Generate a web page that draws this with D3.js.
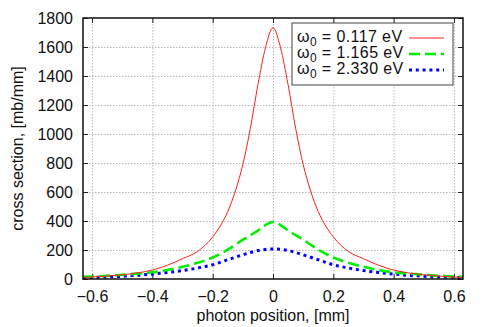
<!DOCTYPE html>
<html lang="en">
<head>
<meta charset="UTF-8">
<title>cross section vs photon position</title>
<script src="https://cdn.jsdelivr.net/npm/d3@7"></script>
<style>
    body {
        background: white;
        margin: 0;
        padding: 0;
    }
    svg text {
        font-family: "Liberation Sans", Arial, sans-serif;
        fill: #111;
    }
    .grid line {
        stroke: #b8b8b8;
        stroke-width: 1;
        stroke-dasharray: 1.5, 1.5;
    }
</style>
</head>
<body>
<script>
    // photon position, mm
    var positions = [-0.63, -0.6, -0.55, -0.5, -0.45, -0.4, -0.35, -0.3, -0.25, -0.2, -0.175, -0.15, -0.125, -0.1, -0.075, -0.05, -0.025,
        0, 0.025, 0.05, 0.075, 0.1, 0.125, 0.15, 0.175, 0.2, 0.25, 0.3, 0.35, 0.4, 0.45, 0.5, 0.55, 0.6, 0.63];

    // cross section, mb/mm
    var red117 = [11, 14, 20, 29, 42, 62, 95, 140, 190, 290, 365, 465, 605, 790, 1040, 1340, 1595,
        1733, 1595, 1340, 1040, 790, 605, 465, 365, 290, 190, 140, 95, 62, 42, 29, 20, 14, 11];
    var green1165 = [15, 17, 22, 29, 37, 46, 62, 84, 112, 148, 174, 202, 236, 271, 302, 334, 372,
        393, 372, 334, 302, 271, 236, 202, 174, 148, 112, 84, 62, 46, 37, 29, 22, 17, 15];
    var blue2330 = [10, 11, 14, 19, 25, 34, 45, 58, 76, 98, 115, 133, 150, 167, 183, 196, 204,
        207, 204, 196, 183, 167, 150, 133, 115, 98, 76, 58, 45, 34, 25, 19, 14, 11, 10];

    var seriesNames = ['0.117 eV', '1.165 eV', '2.330 eV'];
    var xTicks = [-0.6, -0.4, -0.2, 0, 0.2, 0.4, 0.6];
    var yTicks = [0, 200, 400, 600, 800, 1000, 1200, 1400, 1600, 1800];

    var W = 491, H = 327;
    var margin = {top: 18, right: 28, bottom: 48, left: 83};
    var w = W - margin.left - margin.right;
    var h = H - margin.top - margin.bottom;

    var svg = d3.select('body').append('svg')
        .attr('width', W)
        .attr('height', H);

    var g = svg.append('g')
        .attr('transform', 'translate(' + margin.left + ',' + margin.top + ')');

    var x = d3.scaleLinear().domain([-0.63, 0.63]).range([0, w]);
    var y = d3.scaleLinear().domain([0, 1800]).range([h, 0]);

    // grid
    var grid = g.append('g').attr('class', 'grid');
    grid.selectAll('.gx').data(xTicks).enter().append('line')
        .attr('x1', function(d) { return x(d) + 0.5 })
        .attr('x2', function(d) { return x(d) + 0.5 })
        .attr('y1', 0).attr('y2', h);
    grid.selectAll('.gy').data(yTicks.slice(1, -1)).enter().append('line')
        .attr('y1', function(d) { return y(d) + 0.5 })
        .attr('y2', function(d) { return y(d) + 0.5 })
        .attr('x1', 0).attr('x2', w);

    // axes, ticks pointing inward on all four sides
    var fmt = function(d) { return d === 0 ? '0' : d3.format('.1f')(d) };
    var axB = g.append('g').attr('transform', 'translate(0,' + h + ')')
        .call(d3.axisBottom(x).tickValues(xTicks).tickFormat(fmt).tickSizeInner(-5).tickSizeOuter(0).tickPadding(12));
    var axT = g.append('g')
        .call(d3.axisTop(x).tickValues(xTicks).tickFormat('').tickSizeInner(-5).tickSizeOuter(0));
    var axL = g.append('g')
        .call(d3.axisLeft(y).tickValues(yTicks).tickFormat(d3.format('d')).tickSizeInner(-5).tickSizeOuter(0).tickPadding(10));
    var axR = g.append('g').attr('transform', 'translate(' + w + ',0)')
        .call(d3.axisRight(y).tickValues(yTicks).tickFormat('').tickSizeInner(-5).tickSizeOuter(0));

    [axB, axT, axL, axR].forEach(function(a) {
        a.select('.domain').remove();
        a.selectAll('line').attr('stroke', '#222').attr('stroke-width', 1);
        a.selectAll('text').attr('font-size', 16).attr('font-family', '"Liberation Sans", Arial, sans-serif').attr('fill', '#111');
    });

    // curves
    var line = d3.line().curve(d3.curveMonotoneX);
    var series = [
        {vals: red117, color: '#ff2020', width: 1, dash: null},
        {vals: green1165, color: '#00ee00', width: 2.6, dash: '11,5'},
        {vals: blue2330, color: '#0000ff', width: 3, dash: '3,3.8'}
    ];
    g.append('clipPath').attr('id', 'clip').append('rect').attr('width', w).attr('height', h);
    var curves = g.append('g').attr('clip-path', 'url(#clip)');
    series.slice().reverse().forEach(function(s) {
        curves.append('path')
            .attr('d', line(positions.map(function(p, i) { return [x(p), y(s.vals[i])] })))
            .attr('fill', 'none')
            .attr('stroke', s.color)
            .attr('stroke-width', s.width)
            .attr('stroke-dasharray', s.dash);
    });

    // frame
    g.append('rect')
        .attr('width', w).attr('height', h)
        .attr('fill', 'none').attr('stroke', '#111').attr('stroke-width', 1.5);

    // legend
    var lg = g.append('g').attr('transform', 'translate(' + (292 - margin.left) + ',' + (23 - margin.top) + ')');
    lg.append('rect')
        .attr('width', 161).attr('height', 62)
        .attr('fill', 'white').attr('stroke', '#444').attr('stroke-width', 1);
    series.forEach(function(s, i) {
        var t = lg.append('text')
            .attr('x', 5)
            .attr('y', 19 + i * 16)
            .attr('font-size', 16)
            .attr('letter-spacing', 0.4);
        t.append('tspan').text('ω');
        t.append('tspan').attr('dy', 4).attr('font-size', 12).text('0');
        t.append('tspan').attr('dy', -4).text(' = ' + seriesNames[i]);
        lg.append('line')
            .attr('x1', 117).attr('x2', 152)
            .attr('y1', 15 + i * 16).attr('y2', 15 + i * 16)
            .attr('stroke', s.color)
            .attr('stroke-width', s.width)
            .attr('stroke-dasharray', s.dash);
    });

    // axis titles
    svg.append('text')
        .attr('x', margin.left + x(0))
        .attr('y', 321)
        .attr('text-anchor', 'middle')
        .attr('font-size', 16)
        .text('photon position, [mm]');
    svg.append('text')
        .attr('transform', 'translate(23,' + (margin.top + h / 2) + ') rotate(-90)')
        .attr('text-anchor', 'middle')
        .attr('font-size', 16)
        .text('cross section, [mb/mm]');
</script>
</body>
</html>
